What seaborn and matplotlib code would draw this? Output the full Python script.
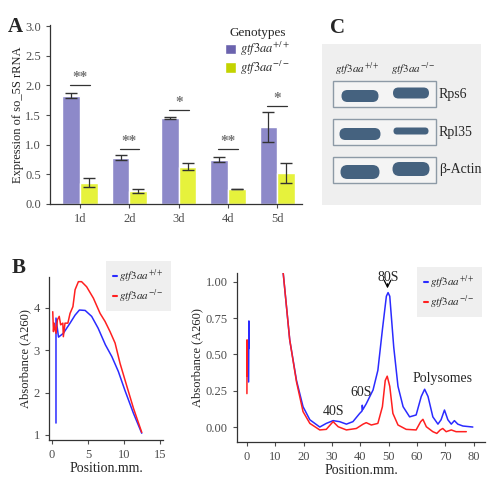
import numpy as np
import pandas as pd
import matplotlib
matplotlib.use("Agg")
import matplotlib.pyplot as plt
import seaborn as sns
from matplotlib.patches import Patch, FancyBboxPatch, Rectangle

# ---- dados do painel A ----
days = ["1d", "2d", "3d", "4d", "5d"]
wt_mean = [1.83, 0.78, 1.45, 0.75, 1.30]
wt_err = [0.04, 0.04, 0.01, 0.04, 0.25]
ko_mean = [0.36, 0.22, 0.63, 0.25, 0.53]
ko_err = [0.08, 0.03, 0.06, 0.005, 0.17]
sig_labels = ["**", "**", "*", "**", "*"]
sig_height = [2.0, 0.93, 1.58, 0.92, 1.65]

# ---- dados do painel B (esquerda) ----
bl_left_x = [0.55, 0.55, 0.9, 1.57, 2.5, 3.2, 3.8, 4.6, 5.5, 6.4, 7.4, 8.3, 9.2, 10.1, 11.3, 12.45]
bl_left_y = [1.28, 3.76, 3.31, 3.40, 3.64, 3.83, 3.95, 3.94, 3.80, 3.52, 3.13, 2.85, 2.50, 2.06, 1.51, 1.04]
rd_left_x = [0.1, 0.2, 0.3, 0.55, 0.75, 1.0, 1.2, 1.5, 1.57, 1.8, 2.2, 2.5, 2.9, 3.2, 3.66, 4.1,
             4.8, 5.74, 6.67, 7.36, 8.05, 8.75, 9.44, 10.4, 11.3, 12.45]
rd_left_y = [3.91, 3.44, 3.64, 3.40, 3.72, 3.80, 3.60, 3.64, 3.32, 3.64, 3.64, 3.87, 4.03, 4.43, 4.62, 4.62,
             4.50, 4.23, 3.87, 3.68, 3.44, 3.17, 2.69, 2.14, 1.63, 1.06]

# ---- dados do painel B (direita) ----
bl0_x = [0.1, 0.1, 0.6, 0.7, 0.7, 0.75]
bl0_y = [0.58, 0.55, 0.31, 0.73, 0.54, 0.56]
rd0_x = [0.0, 0.05, 0.1]
rd0_y = [0.23, 0.60, 0.35]
bl_x = [12.5, 15.1, 17.5, 19.8, 22.2, 25.7, 28.0, 30.4, 32.7, 35.1, 37.4, 39.8, 40.6, 40.7, 40.9, 42.1,
        44.5, 46.2, 47.8, 49.2, 49.8, 50.4, 51.8, 53.3, 55.1, 57.4, 59.7, 61.5, 62.7, 63.9, 65.6, 67.4,
        68.5, 69.7, 70.9, 72.1, 73.2, 74.4, 76.2, 79.7]
bl_y = [1.12, 0.60, 0.32, 0.14, 0.05, 0.0, 0.025, 0.044, 0.037, 0.02, 0.037, 0.094, 0.11, 0.15, 0.12, 0.16,
        0.255, 0.39, 0.67, 0.90, 0.925, 0.90, 0.55, 0.28, 0.14, 0.07, 0.083, 0.21, 0.26, 0.21, 0.07, 0.02,
        0.05, 0.117, 0.05, 0.02, 0.044, 0.02, 0.007, 0.0]
rd_x = [12.5, 15.1, 17.5, 19.8, 22.2, 25.7, 28.0, 30.4, 32.2, 35.1, 38.6, 41.0, 42.1, 43.9, 46.2, 47.8,
        48.8, 49.5, 50.4, 51.5, 53.3, 56.2, 59.7, 61.3, 62.1, 63.3, 65.6, 67.0, 68.2, 69.1, 70.3, 72.1,
        73.8, 77.4]
rd_y = [1.12, 0.60, 0.31, 0.106, 0.025, -0.02, -0.016, 0.037, 0.002, -0.02, -0.01, 0.02, 0.03, 0.014,
        0.025, 0.14, 0.32, 0.35, 0.28, 0.094, 0.014, -0.016, -0.02, 0.037, 0.053, 0.002, -0.032, -0.044,
        -0.02, -0.01, -0.032, -0.02, -0.032, -0.032]

# ---- painel C (blot) ----
blot_names = ["Rps6", "Rpl35", "β-Actin"]
band_w = [[37, 36], [41, 35], [39, 37]]
band_h = [[12, 11], [12, 7], [14, 14]]

wt_lab = r"$\it{gtf3aa}^{+/+}$"
ko_lab = r"$\it{gtf3aa}^{-/-}$"

# Configurações
sns.set_theme(style="ticks")
plt.rcParams["font.family"] = ["Liberation Serif", "DejaVu Serif"]
plt.rcParams["mathtext.fontset"] = "stix"
grey = "#4d4d4d"
plt.rcParams["axes.edgecolor"] = "#333333"
plt.rcParams["xtick.color"] = grey
plt.rcParams["ytick.color"] = grey
plt.rcParams["axes.linewidth"] = 0.9

fig = plt.figure(figsize=(5.0, 4.82), dpi=100)
W, H = 500, 482

def box(x0, y0, x1, y1):
    return [x0 / W, 1 - y1 / H, (x1 - x0) / W, (y1 - y0) / H]

# ================= A =================
axA = fig.add_axes(box(50, 25, 302, 204))
df = pd.DataFrame({
    "day": days * 2,
    "val": wt_mean + ko_mean,
    "geno": ["wt"] * 5 + ["ko"] * 5,
})
sns.barplot(data=df, x="day", y="val", hue="geno", palette={"wt": "#8d89c9", "ko": "#e6f23c"},
            width=0.72, errorbar=None, legend=False, ax=axA, saturation=1)
bars = sorted(axA.patches, key=lambda p: p.get_x())
xs = [p.get_x() + p.get_width() / 2 for p in bars]
wt_x = xs[0::2]
ko_x = xs[1::2]
axA.errorbar(wt_x, wt_mean, yerr=wt_err, fmt="none", ecolor="#333333", elinewidth=0.9, capsize=4)
axA.errorbar(ko_x, ko_mean, yerr=ko_err, fmt="none", ecolor="#333333", elinewidth=0.9, capsize=4)
for i in range(5):
    axA.plot([wt_x[i] - 0.02, ko_x[i] + 0.02], [sig_height[i]] * 2, color="#333333", lw=0.9)
    axA.text((wt_x[i] + ko_x[i]) / 2, sig_height[i] + 0.02, sig_labels[i], ha="center", va="bottom",
             color="#777777", fontsize=11, fontweight="bold")
axA.set_xlim(-0.61, 4.5)
axA.set_ylim(0, 3.02)
axA.set_yticks([0, 0.5, 1.0, 1.5, 2.0, 2.5, 3.0])
axA.set_yticklabels(["0.0", "0.5", "1.0", "1.5", "2.0", "2.5", "3.0"])
axA.set_xlabel("")
axA.set_ylabel("Expression of so_5S rRNA", fontsize=9, color="#222222", labelpad=1)
axA.tick_params(labelsize=9, length=3, width=0.8)
sns.despine(ax=axA)
handles = [Patch(facecolor="#6b63ae", label=wt_lab), Patch(facecolor="#c3d300", label=ko_lab)]
legA = axA.legend(handles=handles, title="Genotypes", loc="upper left", bbox_to_anchor=(0.65, 1.05),
                  frameon=False, fontsize=9, title_fontsize=9.5, handlelength=0.9, handleheight=0.9,
                  handletextpad=0.3, labelspacing=0.05)

# ================= B esquerda =================
axB1 = fig.add_axes(box(49, 277, 163, 440))
sns.lineplot(x=bl_left_x, y=bl_left_y, sort=False, estimator=None, color="#2b2bff", lw=1.1, ax=axB1)
sns.lineplot(x=rd_left_x, y=rd_left_y, sort=False, estimator=None, color="#ff2020", lw=1.1, ax=axB1)
axB1.set_xlim(-0.42, 15.4)
axB1.set_ylim(0.88, 4.73)
axB1.set_xticks([0, 5, 10, 15])
axB1.set_yticks([1, 2, 3, 4])
axB1.set_xlabel("Position.mm.", fontsize=10, color="#222222", labelpad=1)
axB1.set_ylabel("Absorbance (A260)", fontsize=9, color="#222222", labelpad=2)
axB1.tick_params(labelsize=9, length=3, width=0.8)
sns.despine(ax=axB1)

# ================= B direita =================
axB2 = fig.add_axes(box(237, 273, 485, 442))
sns.lineplot(x=bl0_x, y=bl0_y, sort=False, estimator=None, color="#2b2bff", lw=1.1, ax=axB2)
sns.lineplot(x=rd0_x, y=rd0_y, sort=False, estimator=None, color="#ff2020", lw=1.1, ax=axB2)
sns.lineplot(x=bl_x, y=bl_y, sort=False, estimator=None, color="#2b2bff", lw=1.1, ax=axB2)
sns.lineplot(x=rd_x, y=rd_y, sort=False, estimator=None, color="#ff2020", lw=1.1, ax=axB2)
axB2.set_xlim(-3.5, 84)
axB2.set_ylim(-0.103, 1.06)
axB2.set_xticks(range(0, 81, 10))
axB2.set_yticks([0, 0.25, 0.5, 0.75, 1.0])
axB2.set_yticklabels(["0.00", "0.25", "0.50", "0.75", "1.00"])
axB2.set_xlabel("Position.mm.", fontsize=10, color="#222222", labelpad=1)
axB2.set_ylabel("Absorbance (A260)", fontsize=9, color="#222222", labelpad=2)
axB2.tick_params(labelsize=9, length=3, width=0.8)
sns.despine(ax=axB2)
axB2.text(50, 1.03, "80S", ha="center", va="center", fontsize=10)
axB2.annotate("", xy=(49.6, 0.935), xytext=(49.6, 1.005),
              arrowprops=dict(arrowstyle="->", color="black", lw=0.9))
axB2.text(40.4, 0.24, "60S", ha="center", va="center", fontsize=10)
axB2.text(30.4, 0.11, "40S", ha="center", va="center", fontsize=10)
axB2.text(69.1, 0.335, "Polysomes", ha="center", va="center", fontsize=10)

line_handles = [plt.Line2D([], [], color="#2b2bff", lw=1.5, label=wt_lab),
                plt.Line2D([], [], color="#ff2020", lw=1.5, label=ko_lab)]
for (lx, ly) in [(106, 261), (417, 267)]:
    fig.legend(handles=line_handles, loc="upper left", bbox_to_anchor=(lx / W, 1 - ly / H),
               fontsize=8, frameon=True, facecolor="#efefef", edgecolor="none", framealpha=1,
               fancybox=False, handlelength=0.4, handletextpad=0.2, borderpad=0.6, labelspacing=0.25,
               borderaxespad=0)

# ================= C =================
axC = fig.add_axes(box(322, 44, 481, 205))
axC.set_xlim(322, 481)
axC.set_ylim(205, 44)
axC.set_facecolor("#efefef")
for s in axC.spines.values():
    s.set_visible(False)
axC.set_xticks([])
axC.set_yticks([])
lane_x = [360, 411]
row_y = [94, 132, 170]
for r, name in enumerate(blot_names):
    axC.add_patch(Rectangle((333, row_y[r] - 13), 103, 26, facecolor="#f4f4f4", edgecolor="#8d9aa6", lw=1))
    for l in range(2):
        w, h = band_w[r][l], band_h[r][l]
        yc = row_y[r] + (2 if l == 0 else -1)
        axC.add_patch(FancyBboxPatch((lane_x[l] - w / 2, yc - h / 2), w, h,
                                     boxstyle=f"round,pad=0,rounding_size={h / 2}",
                                     facecolor="#45627f", edgecolor="none"))
    axC.text(439, row_y[r], name, ha="left", va="center", fontsize=10)
axC.text(357, 69, wt_lab, ha="center", va="center", fontsize=8)
axC.text(413, 69, ko_lab, ha="center", va="center", fontsize=8)

# rótulos dos painéis
fig.text(8 / W, 1 - 27 / H, "A", fontsize=15, fontweight="bold", va="center")
fig.text(12 / W, 1 - 268 / H, "B", fontsize=15, fontweight="bold", va="center")
fig.text(330 / W, 1 - 28 / H, "C", fontsize=15, fontweight="bold", va="center")

plt.savefig("out.png", dpi=100)
